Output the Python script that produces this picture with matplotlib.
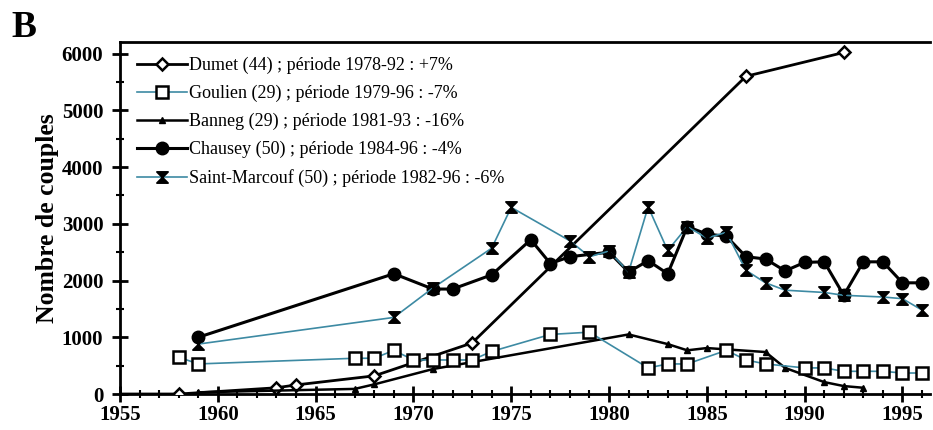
import matplotlib
matplotlib.use("Agg")
import matplotlib.pyplot as plt
from matplotlib.ticker import MultipleLocator
from matplotlib.path import Path

plt.rcParams['font.family'] = ['Liberation Serif', 'DejaVu Serif']

dumet_years = [1955, 1958, 1963, 1964, 1968, 1973, 1987, 1992]
dumet_vals = [0, 0, 110, 160, 320, 900, 5600, 6020]

goulien_years = [1958, 1959, 1967, 1968, 1969, 1970, 1971, 1972, 1973, 1974,
                 1977, 1979, 1982, 1983, 1984, 1986, 1987, 1988, 1990, 1991,
                 1992, 1993, 1994, 1995, 1996]
goulien_vals = [650, 530, 630, 630, 770, 600, 600, 600, 600, 750,
                1050, 1090, 460, 530, 530, 770, 600, 530, 460, 460,
                400, 400, 400, 370, 370]

banneg_years = [1959, 1967, 1968, 1971, 1981, 1983, 1984, 1985, 1988, 1989,
                1991, 1992, 1993]
banneg_vals = [30, 90, 170, 440, 1050, 880, 770, 810, 740, 460,
               210, 140, 110]

chausey_years = [1959, 1969, 1971, 1972, 1974, 1976, 1977, 1978, 1980, 1981,
                 1982, 1983, 1984, 1985, 1986, 1987, 1988, 1989, 1990, 1991,
                 1992, 1993, 1994, 1995, 1996]
chausey_vals = [1000, 2120, 1850, 1850, 2100, 2720, 2300, 2420, 2500, 2150,
                2350, 2120, 2950, 2820, 2780, 2420, 2380, 2170, 2320, 2330,
                1740, 2330, 2330, 1960, 1960]

marcouf_years = [1959, 1969, 1971, 1974, 1975, 1978, 1979, 1980, 1981, 1982,
                 1983, 1984, 1985, 1986, 1987, 1988, 1989, 1991, 1992, 1994,
                 1995, 1996]
marcouf_vals = [880, 1350, 1870, 2570, 3290, 2700, 2420, 2520, 2150, 3300,
                2530, 2950, 2750, 2850, 2180, 1960, 1830, 1790, 1740, 1710,
                1680, 1480]

labels = ["Dumet (44) ; période 1978-92 : +7%",
          "Goulien (29) ; période 1979-96 : -7%",
          "Banneg (29) ; période 1981-93 : -16%",
          "Chausey (50) ; période 1984-96 : -4%",
          "Saint-Marcouf (50) ; période 1982-96 : -6%"]

teal = '#3d8aa3'
hourglass = Path([(-1, 1), (1, 1), (-1, -1), (1, -1), (-1, 1)],
                 [Path.MOVETO, Path.LINETO, Path.LINETO, Path.LINETO, Path.CLOSEPOLY])

fig = plt.figure(figsize=(9.33, 4.30), dpi=100)
ax = fig.add_axes([0.1286, 0.0837, 0.868, 0.818])

ax.plot(dumet_years, dumet_vals, color='black', lw=2, marker='D', ms=6.5,
        mfc='white', mec='black', mew=1.8, label=labels[0], zorder=3,
        markevery=list(range(1, len(dumet_years))))
ax.plot(goulien_years, goulien_vals, color=teal, lw=1.2, marker='s', ms=9,
        mfc='white', mec='black', mew=1.8, label=labels[1], zorder=4)
ax.plot(banneg_years, banneg_vals, color='black', lw=1.8, marker='^', ms=4.5,
        mfc='black', mec='black', label=labels[2], zorder=3)
ax.plot(chausey_years, chausey_vals, color='black', lw=2.2, marker='o', ms=9,
        mfc='black', mec='black', label=labels[3], zorder=3)
ax.plot(marcouf_years, marcouf_vals, color=teal, lw=1.2, marker=hourglass, ms=8,
        mfc='black', mec='black', mew=1.3, label=labels[4], zorder=5)

ax.set_xlim(1955, 1996.4)
ax.set_ylim(0, 6200)
ax.xaxis.set_major_locator(MultipleLocator(5))
ax.xaxis.set_minor_locator(MultipleLocator(1))
ax.yaxis.set_major_locator(MultipleLocator(1000))
ax.yaxis.set_minor_locator(MultipleLocator(500))
ax.tick_params(which='major', direction='inout', length=12, width=2,
               labelsize=15, pad=2)
ax.tick_params(axis='y', which='major', pad=6)
ax.tick_params(which='minor', direction='inout', length=6, width=1.5)
for lab in ax.get_xticklabels() + ax.get_yticklabels():
    lab.set_fontweight('bold')

ax.spines['right'].set_visible(False)
for s in ['left', 'bottom', 'top']:
    ax.spines[s].set_linewidth(2)

ax.set_ylabel('Nombre de couples', fontsize=18.5, fontweight='bold', labelpad=2)

leg = ax.legend(loc='upper left', frameon=False, fontsize=13,
                handlelength=2.8, handletextpad=0.1, labelspacing=0.6,
                borderaxespad=0.3, bbox_to_anchor=(0.005, 0.995))

fig.text(0.012, 0.915, 'B', fontsize=27, fontweight='bold')

fig.savefig('out.png', dpi=100)
